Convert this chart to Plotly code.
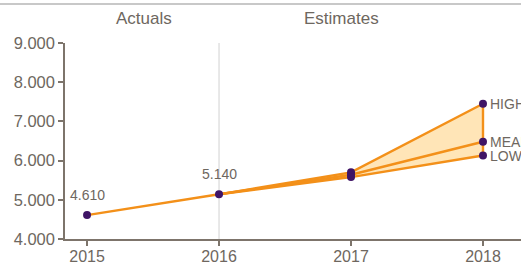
import plotly.graph_objects as go

years_actual = [2015, 2016]
actual = [4610, 5140]
actual_labels = ["4.610", "5.140"]

years_est = [2016, 2017, 2018]
est_high = [5140, 5700, 7450]
est_mean = [5140, 5640, 6480]
est_low = [5140, 5580, 6130]
est_names = ["HIGH", "MEAN", "LOW"]

y_ticks = [4000, 5000, 6000, 7000, 8000, 9000]
x_ticks = [2015, 2016, 2017, 2018]

ORANGE = "#f39019"
FILL = "rgba(255,223,165,0.8)"
PURPLE = "#3f1466"
GRAY_TXT = "#6e6760"
AXIS = "#7d746b"
BORDER = "#c8c8c8"
FONT = "Arial, Liberation Sans, sans-serif"

fig = go.Figure()

fig.add_trace(go.Scatter(x=years_est, y=est_low, mode="lines",
                         line=dict(color=ORANGE, width=2.4), hoverinfo="skip", showlegend=False))
fig.add_trace(go.Scatter(x=years_est, y=est_high, mode="lines", fill="tonexty",
                         fillcolor=FILL, line=dict(color=ORANGE, width=2.4),
                         hoverinfo="skip", showlegend=False))
fig.add_trace(go.Scatter(x=years_est, y=est_mean, mode="lines",
                         line=dict(color=ORANGE, width=2.4), showlegend=False))
fig.add_trace(go.Scatter(x=[years_est[-1], years_est[-1]], y=[est_low[-1], est_high[-1]],
                         mode="lines", line=dict(color=ORANGE, width=2.4), showlegend=False))
fig.add_trace(go.Scatter(x=years_actual, y=actual, mode="lines+markers",
                         line=dict(color=ORANGE, width=2.4),
                         marker=dict(color=PURPLE, size=8), showlegend=False))
for ser in (est_high, est_mean, est_low):
    fig.add_trace(go.Scatter(x=years_est[1:], y=ser[1:], mode="markers",
                             marker=dict(color=PURPLE, size=8), showlegend=False))

for xv, yv, lab in zip(years_actual, actual, actual_labels):
    fig.add_annotation(x=xv, y=yv, text=lab, showarrow=False, yshift=20,
                       xanchor="center", yanchor="middle",
                       font=dict(family=FONT, size=14, color=GRAY_TXT))

for name, ser in zip(est_names, (est_high, est_mean, est_low)):
    fig.add_annotation(x=years_est[-1], y=ser[-1], text=name, showarrow=False,
                       xanchor="left", yanchor="middle", xshift=5,
                       font=dict(family=FONT, size=14, color=GRAY_TXT))

fig.add_shape(type="line", x0=2016, x1=2016, y0=4000, y1=9000, xref="x", yref="y",
              line=dict(color="#d9d9d9", width=1.2), layer="below")
# top border line, drawn in two paper-referenced pieces
fig.add_shape(type="line", x0=0, x1=1, xref="paper", yref="paper",
              y0=1.199, y1=1.199, line=dict(color=BORDER, width=2))
fig.add_shape(type="line", x0=-0.143, x1=0, xref="paper", yref="paper",
              y0=1.199, y1=1.199, line=dict(color=BORDER, width=2))

fig.add_annotation(x=2015.43, y=1, yref="paper", yshift=24.5, text="Actuals", showarrow=False,
                   font=dict(family=FONT, size=17, color=GRAY_TXT), yanchor="middle")
fig.add_annotation(x=2016.93, y=1, yref="paper", yshift=24.5, text="Estimates", showarrow=False,
                   font=dict(family=FONT, size=17, color=GRAY_TXT), yanchor="middle")

fig.update_layout(
    width=521, height=263,
    margin=dict(l=65, r=0, t=43, b=24, autoexpand=False),
    paper_bgcolor="white", plot_bgcolor="white",
    separators=",.",
    font=dict(family=FONT, color=GRAY_TXT),
    xaxis=dict(range=[2014.833, 2018.288], tickvals=x_ticks, ticktext=[str(v) for v in x_ticks],
               showgrid=False, zeroline=False, showline=True, linecolor=AXIS, linewidth=1.5,
               ticks="outside", ticklen=5, tickcolor=AXIS, tickwidth=1.5,
               ticklabelstandoff=-3,
               tickfont=dict(family=FONT, size=16, color=GRAY_TXT)),
    yaxis=dict(range=[4000, 9000], tickvals=y_ticks, tickformat=",d",
               showgrid=False, zeroline=False, showline=True, linecolor=AXIS, linewidth=1.5,
               ticks="outside", ticklen=5, tickcolor=AXIS, tickwidth=1.5,
               tickfont=dict(family=FONT, size=16.5, color=GRAY_TXT)),
)

fig.write_html("out.html", config={"displayModeBar": False},
               post_script="document.body.style.margin='0';document.body.style.overflow='hidden';")
